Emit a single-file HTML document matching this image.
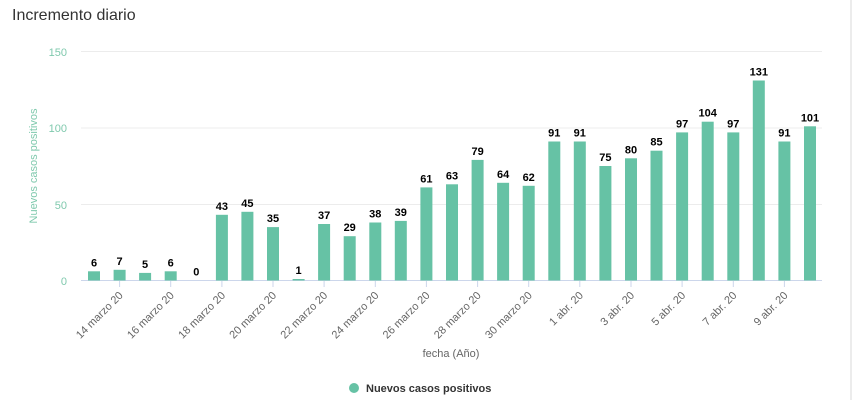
<!DOCTYPE html>
<html><head><style>
body{margin:0;background:#fff;}
svg text{font-family:"Liberation Sans",sans-serif;}
</style></head><body>
<svg width="864" height="400" xmlns="http://www.w3.org/2000/svg">
<rect width="864" height="400" fill="#fff"/>
<line x1="851" y1="0" x2="851" y2="400" stroke="#d8d8d8"/>
<text x="12" y="20" font-size="16" fill="#333">Incremento diario</text>
<g stroke="#ececec">
<line x1="81" y1="51.5" x2="822" y2="51.5"/>
<line x1="81" y1="128" x2="822" y2="128"/>
<line x1="81" y1="204.5" x2="822" y2="204.5"/>
</g>
<line x1="81" y1="280.5" x2="822" y2="280.5" stroke="#ccd6eb"/>
<g font-size="11" fill="#7fc9ad" text-anchor="end">
<text x="67" y="56">150</text><text x="67" y="132">100</text><text x="67" y="209">50</text><text x="67" y="285">0</text>
</g>
<text transform="translate(37,166) rotate(-90)" font-size="11" fill="#7fc9ad" text-anchor="middle">Nuevos casos positivos</text>
<g fill="#66c2a5">
<rect x="88" y="271.3" width="12" height="9.2"/>
<rect x="113.6" y="269.8" width="12" height="10.7"/>
<rect x="139.1" y="272.9" width="12" height="7.6"/>
<rect x="164.7" y="271.3" width="12" height="9.2"/>
<rect x="215.9" y="214.8" width="12" height="65.7"/>
<rect x="241.4" y="211.8" width="12" height="68.7"/>
<rect x="267" y="227.1" width="12" height="53.4"/>
<rect x="292.6" y="279" width="12" height="1.5"/>
<rect x="318.1" y="224" width="12" height="56.5"/>
<rect x="343.7" y="236.2" width="12" height="44.3"/>
<rect x="369.3" y="222.5" width="12" height="58"/>
<rect x="394.8" y="220.9" width="12" height="59.6"/>
<rect x="420.4" y="187.4" width="12" height="93.1"/>
<rect x="446" y="184.3" width="12" height="96.2"/>
<rect x="471.6" y="159.9" width="12" height="120.6"/>
<rect x="497.1" y="182.8" width="12" height="97.7"/>
<rect x="522.7" y="185.8" width="12" height="94.7"/>
<rect x="548.3" y="141.5" width="12" height="139"/>
<rect x="573.8" y="141.5" width="12" height="139"/>
<rect x="599.4" y="166" width="12" height="114.5"/>
<rect x="625" y="158.3" width="12" height="122.2"/>
<rect x="650.5" y="150.7" width="12" height="129.8"/>
<rect x="676.1" y="132.4" width="12" height="148.1"/>
<rect x="701.7" y="121.7" width="12" height="158.8"/>
<rect x="727.3" y="132.4" width="12" height="148.1"/>
<rect x="752.8" y="80.5" width="12" height="200"/>
<rect x="778.4" y="141.5" width="12" height="139"/>
<rect x="804" y="126.3" width="12" height="154.2"/>
</g>
<g font-size="11" font-weight="bold" fill="#000" text-anchor="middle">
<text x="94" y="266.3">6</text>
<text x="119.6" y="264.8">7</text>
<text x="145.1" y="267.9">5</text>
<text x="170.7" y="266.3">6</text>
<text x="196.3" y="275.5">0</text>
<text x="221.9" y="209.8">43</text>
<text x="247.4" y="206.8">45</text>
<text x="273" y="222.1">35</text>
<text x="298.6" y="274">1</text>
<text x="324.1" y="219">37</text>
<text x="349.7" y="231.2">29</text>
<text x="375.3" y="217.5">38</text>
<text x="400.8" y="215.9">39</text>
<text x="426.4" y="182.4">61</text>
<text x="452" y="179.3">63</text>
<text x="477.6" y="154.9">79</text>
<text x="503.1" y="177.8">64</text>
<text x="528.7" y="180.8">62</text>
<text x="554.3" y="136.5">91</text>
<text x="579.8" y="136.5">91</text>
<text x="605.4" y="161">75</text>
<text x="631" y="153.3">80</text>
<text x="656.5" y="145.7">85</text>
<text x="682.1" y="127.4">97</text>
<text x="707.7" y="116.7">104</text>
<text x="733.3" y="127.4">97</text>
<text x="758.8" y="75.5">131</text>
<text x="784.4" y="136.5">91</text>
<text x="810" y="121.3">101</text>
</g>
<g stroke="#ccd6eb">
<line x1="119.6" y1="281" x2="119.6" y2="287"/><line x1="170.7" y1="281" x2="170.7" y2="287"/>
<line x1="221.9" y1="281" x2="221.9" y2="287"/><line x1="273" y1="281" x2="273" y2="287"/>
<line x1="324.1" y1="281" x2="324.1" y2="287"/><line x1="375.3" y1="281" x2="375.3" y2="287"/>
<line x1="426.4" y1="281" x2="426.4" y2="287"/><line x1="477.6" y1="281" x2="477.6" y2="287"/>
<line x1="528.7" y1="281" x2="528.7" y2="287"/><line x1="579.8" y1="281" x2="579.8" y2="287"/>
<line x1="631" y1="281" x2="631" y2="287"/><line x1="682.1" y1="281" x2="682.1" y2="287"/>
<line x1="733.3" y1="281" x2="733.3" y2="287"/><line x1="784.4" y1="281" x2="784.4" y2="287"/>
</g>
<g font-size="11" fill="#666" text-anchor="end">
<text transform="translate(123.6,296) rotate(-45)">14 marzo 20</text>
<text transform="translate(174.7,296) rotate(-45)">16 marzo 20</text>
<text transform="translate(225.9,296) rotate(-45)">18 marzo 20</text>
<text transform="translate(277,296) rotate(-45)">20 marzo 20</text>
<text transform="translate(328.1,296) rotate(-45)">22 marzo 20</text>
<text transform="translate(379.3,296) rotate(-45)">24 marzo 20</text>
<text transform="translate(430.4,296) rotate(-45)">26 marzo 20</text>
<text transform="translate(481.6,296) rotate(-45)">28 marzo 20</text>
<text transform="translate(532.7,296) rotate(-45)">30 marzo 20</text>
<text transform="translate(583.8,296) rotate(-45)">1 abr. 20</text>
<text transform="translate(635,296) rotate(-45)">3 abr. 20</text>
<text transform="translate(686.1,296) rotate(-45)">5 abr. 20</text>
<text transform="translate(737.3,296) rotate(-45)">7 abr. 20</text>
<text transform="translate(788.4,296) rotate(-45)">9 abr. 20</text>
</g>
<text x="451" y="357" font-size="11" fill="#666" text-anchor="middle">fecha (Año)</text>
<circle cx="354" cy="388" r="5" fill="#66c2a5"/>
<text x="366" y="392" font-size="11" font-weight="bold" fill="#333">Nuevos casos positivos</text>
</svg>
</body></html>
